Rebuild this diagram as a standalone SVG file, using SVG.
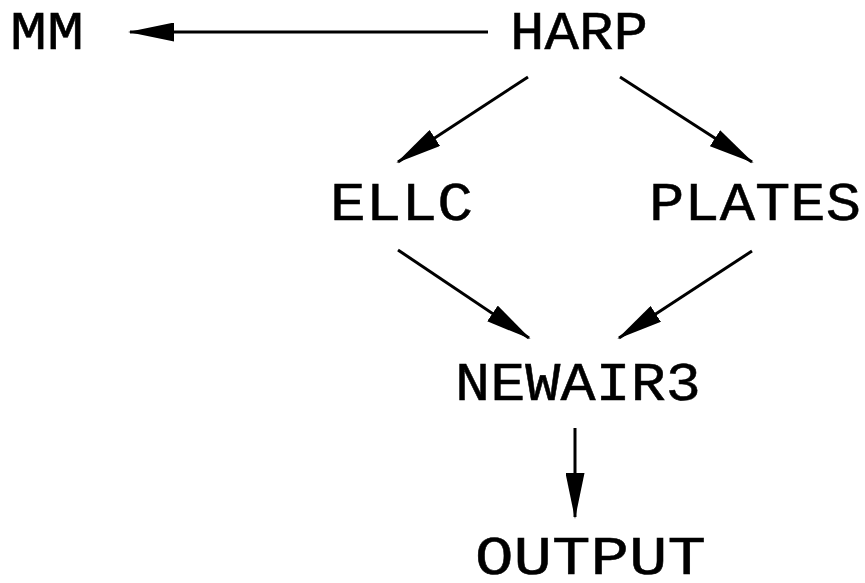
<svg xmlns="http://www.w3.org/2000/svg" width="865" height="583" viewBox="0 0 865 583">
<style>
.lbl{font-family:"Liberation Mono","DejaVu Sans Mono",monospace;font-size:54px;fill:#000;stroke:#000;stroke-width:0.5;text-anchor:middle}
.edge{stroke:#000;stroke-width:3;fill:none;marker-end:url(#ah)}
</style>
<defs>
<marker id="ah" viewBox="0 -9.5 46 19" markerWidth="46" markerHeight="19" refX="44" refY="0" orient="auto" markerUnits="userSpaceOnUse">
<path d="M0,-9.5 L46,0 L0,9.5 Z" fill="#000"/>
</marker>
</defs>
<rect width="865" height="583" fill="#fff"/>
<g id="connectors">
<line class="edge" x1="488" y1="32" x2="130" y2="32"/>
<line class="edge" x1="528" y1="77" x2="398" y2="162"/>
<line class="edge" x1="620" y1="77" x2="752" y2="162"/>
<line class="edge" x1="398" y1="250" x2="529" y2="338"/>
<line class="edge" x1="752" y1="251" x2="619" y2="338"/>
<line class="edge" x1="575" y1="428" x2="575" y2="517"/>
</g>
<g id="MM"><text class="lbl" x="47" y="49" textLength="74" lengthAdjust="spacingAndGlyphs">MM</text></g>
<g id="HARP"><text class="lbl" x="579" y="49" textLength="138" lengthAdjust="spacingAndGlyphs">HARP</text></g>
<g id="ELLC"><text class="lbl" x="401.5" y="220" textLength="143" lengthAdjust="spacingAndGlyphs">ELLC</text></g>
<g id="PLATES"><text class="lbl" x="755" y="220" textLength="212" lengthAdjust="spacingAndGlyphs">PLATES</text></g>
<g id="NEWAIR3"><text class="lbl" x="578" y="400" textLength="246" lengthAdjust="spacingAndGlyphs">NEWAIR3</text></g>
<g id="OUTPUT"><text class="lbl" x="590.5" y="574" textLength="231" lengthAdjust="spacingAndGlyphs">OUTPUT</text></g>
</svg>
